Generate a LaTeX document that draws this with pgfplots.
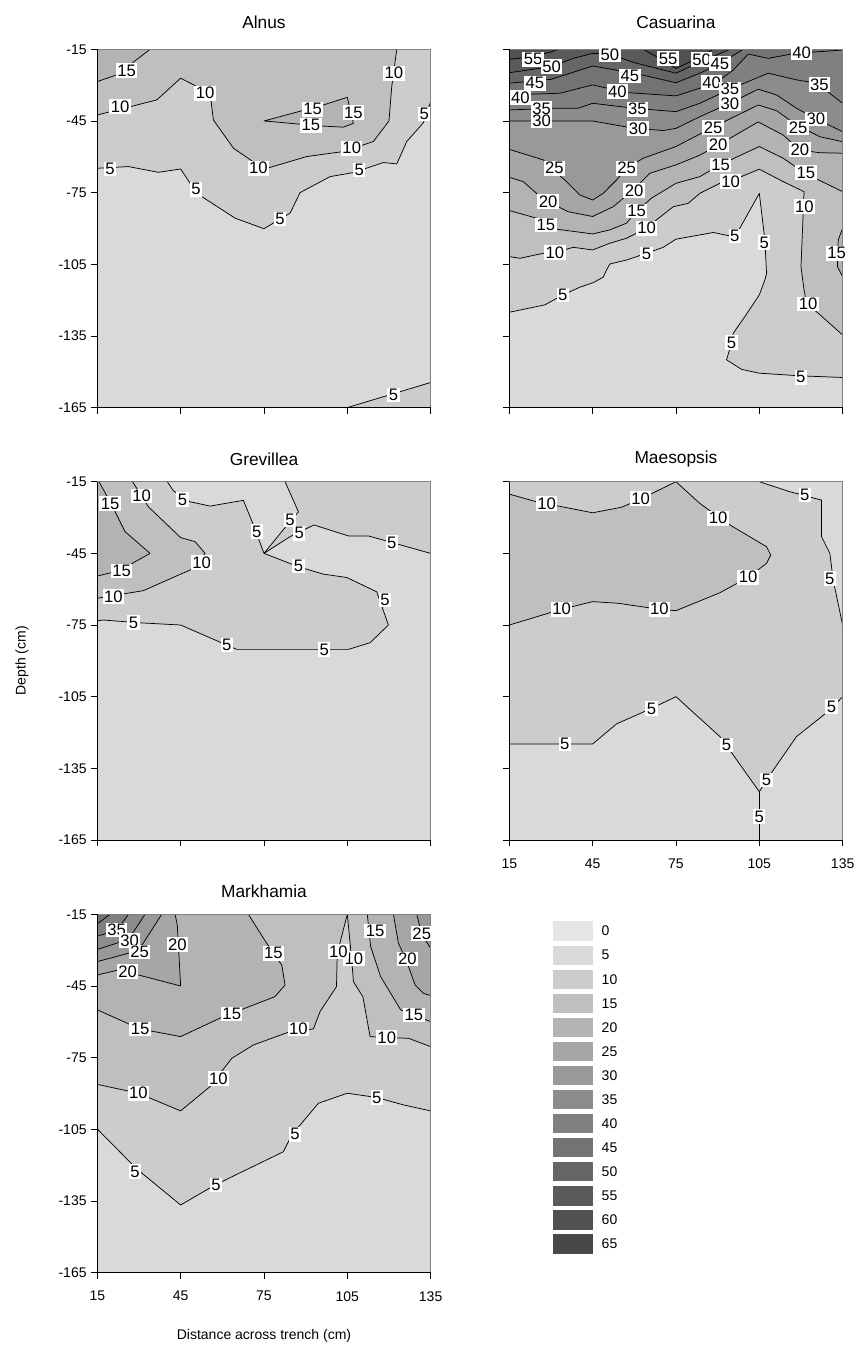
\documentclass[border=0pt]{standalone}
\usepackage{fontspec}
\setmainfont{Liberation Sans}
\usepackage{pgfplots}
\pgfplotsset{compat=1.18}

\definecolor{g0}{RGB}{229,229,229}
\definecolor{g5}{RGB}{217,217,217}
\definecolor{g10}{RGB}{204,204,204}
\definecolor{g15}{RGB}{191,191,191}
\definecolor{g20}{RGB}{179,179,179}
\definecolor{g25}{RGB}{166,166,166}
\definecolor{g30}{RGB}{153,153,153}
\definecolor{g35}{RGB}{140,140,140}
\definecolor{g40}{RGB}{128,128,128}
\definecolor{g45}{RGB}{115,115,115}
\definecolor{g50}{RGB}{102,102,102}
\definecolor{g55}{RGB}{90,90,90}
\definecolor{g60}{RGB}{81,81,81}
\definecolor{g65}{RGB}{72,72,72}

\pgfplotsset{
  panel/.style={
    anchor=north west, scale only axis, width=250pt, height=268.7pt,
    xmin=15, xmax=135, ymin=-165, ymax=-15,
    xtick={15,45,75,105,135}, ytick={-165,-135,-105,-75,-45,-15},
    axis x line*=bottom, axis y line*=left,
    axis line style={black, line width=0.6pt},
    tick style={black, line width=0.6pt},
    tick align=outside, major tick length=4.5pt,
    axis on top, clip=false,
    tick label style={font=\fontsize{10.5}{12}\selectfont},
    xticklabel style={yshift=-6pt},
    /pgf/number format/assume math mode=true,
    title style={font=\fontsize{13}{15}\selectfont, anchor=center, at={(0.5,1)}, yshift=11pt},
    every axis y label/.style={at={(rel axis cs:0,0.5)}, xshift=-56.5pt, rotate=90, anchor=center, font=\fontsize{10.5}{12}\selectfont},
    every axis x label/.style={at={(rel axis cs:0.5,0)}, yshift=-47.5pt, anchor=center, font=\fontsize{10.5}{12}\selectfont},
  },
  toprow/.style={title style={yshift=3.5pt}},
  ct/.style={black, line width=0.55pt, line join=round},
}
\tikzset{lbl/.style={fill=white, inner sep=1.1pt, font=\fontsize{12.5}{13}\selectfont, text=black}}
\newcommand{\lab}[3]{\node[lbl] at (axis cs:#1,#2) {#3};}
\newcommand{\frm}{\draw[gray, line width=0.5pt] (rel axis cs:0,1) -- (rel axis cs:1,1) -- (rel axis cs:1,0);}
\newcommand{\bg}{\addplot[fill=g5, draw=none] coordinates {(15,-15)(135,-15)(135,-165)(15,-165)} --cycle;}

\begin{document}
\begin{tikzpicture}
\useasboundingbox (0,0) rectangle (642.75pt,-1011.75pt);

% ---------------- Alnus ----------------
\begin{axis}[panel, toprow, at={(72.98pt,-36.98pt)}, title={Alnus}, xticklabels={}]
\bg
\addplot[fill=g10, draw=none] coordinates {(15,-64.8)(26.2,-64.1)(37.0,-66.5)(45.0,-65.1)(50.8,-75.3)(64.6,-85.7)(75.0,-90.1)(84.4,-83.6)(88.0,-75.0)(98.8,-68.3)(107.2,-66.6)(118.0,-62.4)(122.8,-63.0)(126.4,-53.6)(132.4,-45.7)(135,-36.9)(135,-15)(15,-15)} --cycle;
\addplot[fill=g10, draw=none] coordinates {(105,-165)(135,-154.5)(135,-165)} --cycle;
\addplot[fill=g15, draw=none] coordinates {(15,-42.5)(36.4,-36.2)(45.0,-27.1)(55.6,-33.4)(56.8,-44.6)(64.0,-56.4)(75.0,-65.2)(90.4,-59.9)(103.6,-57.8)(114.4,-53.6)(120.0,-45.0)(121.0,-30.6)(122.8,-15)(15,-15)} --cycle;
\addplot[fill=g20, draw=none] coordinates {(15,-28.5)(22.0,-25.7)(34.0,-15)(15,-15)} --cycle;
\addplot[fill=g20, draw=none] coordinates {(75,-45)(96.4,-38.3)(105,-35.1)(107.2,-46)(103.6,-47.6)(95.2,-47.1)} --cycle;
\addplot[ct] coordinates {(15,-28.5)(22.0,-25.7)(34.0,-15)};
\addplot[ct] coordinates {(15,-42.5)(36.4,-36.2)(45.0,-27.1)(55.6,-33.4)(56.8,-44.6)(64.0,-56.4)(75.0,-65.2)(90.4,-59.9)(103.6,-57.8)(114.4,-53.6)(120.0,-45.0)(121.0,-30.6)(122.8,-15)};
\addplot[ct] coordinates {(75,-45)(96.4,-38.3)(105,-35.1)(107.2,-46)(103.6,-47.6)(95.2,-47.1)} --cycle;
\addplot[ct] coordinates {(15,-64.8)(26.2,-64.1)(37.0,-66.5)(45.0,-65.1)(50.8,-75.3)(64.6,-85.7)(75.0,-90.1)(84.4,-83.6)(88.0,-75.0)(98.8,-68.3)(107.2,-66.6)(118.0,-62.4)(122.8,-63.0)(126.4,-53.6)(132.4,-45.7)(135,-36.9)};
\addplot[ct] coordinates {(105,-165)(135,-154.5)};
\frm
\lab{25.6}{-23.9}{15}\lab{23.2}{-39.0}{10}\lab{53.8}{-33.4}{10}\lab{73.0}{-64.8}{10}
\lab{106.6}{-56.4}{10}\lab{121.8}{-25.0}{10}\lab{92.5}{-40.1}{15}\lab{107.2}{-41.5}{15}
\lab{91.9}{-46.8}{15}\lab{19.6}{-65.2}{5}\lab{50.5}{-73.6}{5}\lab{80.8}{-86.1}{5}
\lab{109.3}{-65.5}{5}\lab{132.7}{-42.1}{5}\lab{121.6}{-159.7}{5}
\end{axis}

% ---------------- Casuarina ----------------
\begin{axis}[panel, toprow, at={(381.98pt,-36.98pt)}, title={Casuarina}, xticklabels={}, yticklabels={}]
\bg
\addplot[fill=g10, draw=none] coordinates {(15,-125.1)(27.8,-122.0)(34.4,-117.8)(40.4,-114.6)(45.2,-112.7)(48.8,-110.4)(50.0,-107.4)(51.2,-104.9)(57.2,-103.2)(64.4,-100.4)(70.4,-97.9)(75,-94.5)(88.4,-91.7)(95.6,-93.4)(98.0,-89.9)(105,-75.3)(107.0,-94.8)(107.6,-108.8)(107.0,-111.6)(105,-117.8)(99.8,-126.9)(95.6,-133.9)(95.0,-138.1)(93.2,-145.0)(98.6,-149.0)(105,-150.6)(119.6,-151.7)(135,-152.4)(135,-15)(15,-15)} --cycle;
\addplot[fill=g15, draw=none] coordinates {(15,-101.8)(18.8,-102.5)(27.2,-100.4)(31.4,-100.1)(38.0,-97.9)(45,-99.0)(51.2,-96.2)(57.2,-94.1)(64.4,-89.9)(68.0,-86.4)(74.0,-80.9)(79.4,-79.5)(83.6,-75.3)(90.8,-71.1)(95.6,-69.7)(105,-65.2)(113.6,-70.4)(121.1,-74.6)(120.6,-89.2)(120.0,-106.0)(121.1,-115.7)(122.0,-121.3)(126.2,-125.5)(135,-134.6)(135,-15)(15,-15)} --cycle;
\addplot[fill=g20, draw=none] coordinates {(15,-82.5)(24.8,-85.7)(28.4,-88.5)(32.0,-90.3)(45,-92.3)(51.2,-90.6)(57.2,-87.8)(60.8,-82.9)(66.2,-77.3)(75,-71.1)(83.6,-68.3)(90.8,-63.4)(105,-55.7)(113.6,-60.6)(121.4,-66.9)(135,-74.6)(135,-15)(15,-15)} --cycle;
\addplot[fill=g20, draw=none] coordinates {(135,-89.9)(133.4,-94.8)(133.1,-106.0)(135,-110.2)} --cycle;
\addplot[fill=g25, draw=none] coordinates {(15,-68.6)(20.0,-70.4)(24.8,-75.3)(29.0,-78.8)(36.2,-83.0)(45,-85.0)(52.4,-80.9)(59.6,-73.9)(65.6,-66.9)(75,-63.4)(83.6,-59.3)(90.2,-55.1)(104.6,-45.4)(113.6,-50.9)(119.6,-57.2)(126.8,-58.3)(135,-58.5)(135,-15)(15,-15)} --cycle;
\addplot[fill=g30, draw=none] coordinates {(15,-56.9)(27.2,-61.3)(30.8,-65.5)(35.6,-70.4)(40.4,-76.0)(45,-78.1)(48.8,-75.3)(53.6,-69.7)(57.2,-64.8)(63.2,-60.6)(75,-55.7)(88.4,-47.6)(104.6,-38.3)(111.2,-40.7)(118.4,-46.7)(126.8,-51.6)(135,-53.7)(135,-15)(15,-15)} --cycle;
\addplot[fill=g35, draw=none] coordinates {(15,-45.0)(45,-45.0)(60,-48.1)(70.4,-49.0)(75,-48.1)(83.6,-43.2)(94.4,-37.6)(104.6,-31.7)(111.2,-34.1)(118.4,-39.7)(125.6,-44.2)(135,-49.5)(135,-15)(15,-15)} --cycle;
\addplot[fill=g40, draw=none] coordinates {(15,-40.4)(30,-39.7)(39.8,-39.7)(45,-37.6)(60,-39.7)(75,-41.1)(83.6,-37.6)(94.4,-31.7)(108.2,-25.0)(118.4,-27.8)(125.6,-29.2)(135,-37.6)(135,-15)(15,-15)} --cycle;
\addplot[fill=g45, draw=none] coordinates {(15,-34.1)(33.2,-33.4)(45,-29.9)(57.2,-33.1)(75,-34.5)(83.6,-31.3)(90,-28.5)(95.6,-23.7)(101.0,-17.0)(108.2,-18.8)(117.8,-16.7)(135,-15.3)(135,-15)(15,-15)} --cycle;
\addplot[fill=g50, draw=none] coordinates {(15,-29.2)(30,-27.6)(45,-22.0)(60,-25.0)(75,-29.0)(83.6,-25.0)(90,-21.6)(99.2,-15)(15,-15)} --cycle;
\addplot[fill=g55, draw=none] coordinates {(15,-24.8)(30,-22.3)(38.0,-18.8)(45,-16.7)(51.2,-17.0)(60,-20.6)(75,-25.0)(84.8,-19.7)(94.4,-15)(15,-15)} --cycle;
\addplot[fill=g60, draw=none] coordinates {(15,-19.2)(23.6,-18.1)(30,-16.1)(32.6,-15)(15,-15)} --cycle;
\addplot[fill=g60, draw=none] coordinates {(63.2,-15)(68.0,-18.1)(75,-23.0)(81.2,-19.7)(88.4,-15)} --cycle;
% lines
\addplot[ct] coordinates {(15,-125.1)(27.8,-122.0)(34.4,-117.8)(40.4,-114.6)(45.2,-112.7)(48.8,-110.4)(50.0,-107.4)(51.2,-104.9)(57.2,-103.2)(64.4,-100.4)(70.4,-97.9)(75,-94.5)(88.4,-91.7)(95.6,-93.4)(98.0,-89.9)(105,-75.3)(107.0,-94.8)(107.6,-108.8)(107.0,-111.6)(105,-117.8)(99.8,-126.9)(95.6,-133.9)(95.0,-138.1)(93.2,-145.0)(98.6,-149.0)(105,-150.6)(119.6,-151.7)(135,-152.4)};
\addplot[ct] coordinates {(15,-101.8)(18.8,-102.5)(27.2,-100.4)(31.4,-100.1)(38.0,-97.9)(45,-99.0)(51.2,-96.2)(57.2,-94.1)(64.4,-89.9)(68.0,-86.4)(74.0,-80.9)(79.4,-79.5)(83.6,-75.3)(90.8,-71.1)(95.6,-69.7)(105,-65.2)(113.6,-70.4)(121.1,-74.6)(120.6,-89.2)(120.0,-106.0)(121.1,-115.7)(122.0,-121.3)(126.2,-125.5)(135,-134.6)};
\addplot[ct] coordinates {(15,-82.5)(24.8,-85.7)(28.4,-88.5)(32.0,-90.3)(45,-92.3)(51.2,-90.6)(57.2,-87.8)(60.8,-82.9)(66.2,-77.3)(75,-71.1)(83.6,-68.3)(90.8,-63.4)(105,-55.7)(113.6,-60.6)(121.4,-66.9)(135,-74.6)};
\addplot[ct] coordinates {(135,-89.9)(133.4,-94.8)(133.1,-106.0)(135,-110.2)};
\addplot[ct] coordinates {(15,-68.6)(20.0,-70.4)(24.8,-75.3)(29.0,-78.8)(36.2,-83.0)(45,-85.0)(52.4,-80.9)(59.6,-73.9)(65.6,-66.9)(75,-63.4)(83.6,-59.3)(90.2,-55.1)(104.6,-45.4)(113.6,-50.9)(119.6,-57.2)(126.8,-58.3)(135,-58.5)};
\addplot[ct] coordinates {(15,-56.9)(27.2,-61.3)(30.8,-65.5)(35.6,-70.4)(40.4,-76.0)(45,-78.1)(48.8,-75.3)(53.6,-69.7)(57.2,-64.8)(63.2,-60.6)(75,-55.7)(88.4,-47.6)(104.6,-38.3)(111.2,-40.7)(118.4,-46.7)(126.8,-51.6)(135,-53.7)};
\addplot[ct] coordinates {(15,-45.0)(45,-45.0)(60,-48.1)(70.4,-49.0)(75,-48.1)(83.6,-43.2)(94.4,-37.6)(104.6,-31.7)(111.2,-34.1)(118.4,-39.7)(125.6,-44.2)(135,-49.5)};
\addplot[ct] coordinates {(15,-40.4)(30,-39.7)(39.8,-39.7)(45,-37.6)(60,-39.7)(75,-41.1)(83.6,-37.6)(94.4,-31.7)(108.2,-25.0)(118.4,-27.8)(125.6,-29.2)(135,-37.6)};
\addplot[ct] coordinates {(15,-34.1)(33.2,-33.4)(45,-29.9)(57.2,-33.1)(75,-34.5)(83.6,-31.3)(90,-28.5)(95.6,-23.7)(101.0,-17.0)(108.2,-18.8)(117.8,-16.7)(135,-15.3)};
\addplot[ct] coordinates {(15,-29.2)(30,-27.6)(45,-22.0)(60,-25.0)(75,-29.0)(83.6,-25.0)(90,-21.6)(99.2,-15)};
\addplot[ct] coordinates {(15,-24.8)(30,-22.3)(38.0,-18.8)(45,-16.7)(51.2,-17.0)(60,-20.6)(75,-25.0)(84.8,-19.7)(94.4,-15)};
\addplot[ct] coordinates {(15,-19.2)(23.6,-18.1)(30,-16.1)(32.6,-15)};
\addplot[ct] coordinates {(63.2,-15)(68.0,-18.1)(75,-23.0)(81.2,-19.7)(88.4,-15)};
\frm
\lab{23.6}{-19.2}{55}\lab{30.2}{-22.3}{50}\lab{51.2}{-17.4}{50}\lab{72.2}{-18.8}{55}
\lab{84.2}{-19.2}{50}\lab{90.8}{-20.9}{45}\lab{120.2}{-16.4}{40}
\lab{24.2}{-29.2}{45}\lab{19.0}{-35.2}{40}\lab{26.6}{-39.9}{35}\lab{26.6}{-45.0}{30}
\lab{58.4}{-26.2}{45}\lab{53.9}{-32.7}{40}\lab{61.1}{-40.1}{35}\lab{61.4}{-48.1}{30}
\lab{87.8}{-29.0}{40}\lab{94.4}{-31.7}{35}\lab{94.4}{-37.6}{30}\lab{126.6}{-29.7}{35}
\lab{125.4}{-44.2}{30}\lab{119.0}{-47.7}{25}\lab{119.6}{-57.1}{20}\lab{121.8}{-66.6}{15}
\lab{121.2}{-80.9}{10}\lab{88.4}{-47.7}{25}\lab{90.2}{-55.0}{20}\lab{91.1}{-63.4}{15}
\lab{94.7}{-70.4}{10}\lab{31.2}{-64.8}{25}\lab{57.2}{-64.8}{25}\lab{29.0}{-78.8}{20}
\lab{59.9}{-74.2}{20}\lab{28.2}{-88.5}{15}\lab{60.8}{-82.7}{15}\lab{31.4}{-100.1}{10}
\lab{64.4}{-89.9}{10}\lab{64.4}{-100.7}{5}\lab{34.2}{-117.8}{5}\lab{96.2}{-93.1}{5}
\lab{106.8}{-95.9}{5}\lab{132.8}{-100.4}{15}\lab{122.6}{-121.6}{10}\lab{95.0}{-137.8}{5}
\lab{119.9}{-152.3}{5}
\end{axis}

% ---------------- Grevillea ----------------
\begin{axis}[panel, at={(72.98pt,-361.28pt)}, title={Grevillea}, xticklabels={}, ylabel={Depth (cm)}]
\bg
\addplot[fill=g10, draw=none] coordinates {(15,-15)(40.2,-15)(42.4,-18.8)(48.4,-23.4)(55.6,-25.2)(67.6,-22.8)(71.2,-33.1)(75,-45)(87.4,-50.6)(96.4,-53.7)(104.8,-55.1)(115.6,-61.1)(119.8,-75)(113.2,-82.4)(105.4,-85.2)(96.4,-85.2)(65.2,-85.2)(61.6,-83.4)(45,-75)(29.2,-74)(17.2,-72.9)(15,-73.2)} --cycle;
\addplot[fill=g10, draw=none] coordinates {(82.6,-15)(87.4,-27.6)(81.4,-35.9)(75,-45)(84.4,-38)(93,-33.1)(105.4,-37.7)(112.6,-37.7)(135,-45)(135,-15)} --cycle;
\addplot[fill=g15, draw=none] coordinates {(27.7,-15)(33.4,-25.5)(45,-38.4)(50.2,-40.1)(53.8,-45.0)(48.4,-52.0)(45,-53.7)(31.6,-60.6)(15,-63.8)(15,-15)} --cycle;
\addplot[fill=g20, draw=none] coordinates {(15.6,-15)(19.6,-23.4)(25.0,-35.9)(34.0,-45.0)(28.0,-48.9)(23.8,-52.0)(15,-54.5)(15,-15)} --cycle;
\addplot[ct] coordinates {(15.6,-15)(19.6,-23.4)(25.0,-35.9)(34.0,-45.0)(28.0,-48.9)(23.8,-52.0)(15,-54.5)};
\addplot[ct] coordinates {(27.7,-15)(33.4,-25.5)(45,-38.4)(50.2,-40.1)(53.8,-45.0)(48.4,-52.0)(45,-53.7)(31.6,-60.6)(15,-63.8)};
\addplot[ct] coordinates {(40.2,-15)(42.4,-18.8)(48.4,-23.4)(55.6,-25.2)(67.6,-22.8)(71.2,-33.1)(75,-45)};
\addplot[ct] coordinates {(82.6,-15)(87.4,-27.6)(81.4,-35.9)(75,-45)};
\addplot[ct] coordinates {(75,-45)(84.4,-38)(93,-33.1)(105.4,-37.7)(112.6,-37.7)(135,-45)};
\addplot[ct] coordinates {(75,-45)(87.4,-50.6)(96.4,-53.7)(104.8,-55.1)(115.6,-61.1)(119.8,-75)(113.2,-82.4)(105.4,-85.2)(96.4,-85.2)(65.2,-85.2)(61.6,-83.4)(45,-75)(29.2,-74)(17.2,-72.9)(15,-73.2)};
\frm
\lab{19.6}{-24.1}{15}\lab{31.0}{-21.0}{10}\lab{45.7}{-22.4}{5}\lab{72.4}{-35.9}{5}
\lab{84.4}{-31.0}{5}\lab{87.7}{-36.6}{5}\lab{121.0}{-40.5}{5}\lab{52.6}{-48.9}{10}
\lab{23.8}{-52.4}{15}\lab{20.8}{-63.1}{10}\lab{87.4}{-50.3}{5}\lab{118.6}{-64.5}{5}
\lab{28.0}{-74.0}{5}\lab{61.6}{-83.4}{5}\lab{96.7}{-85.2}{5}
\end{axis}

% ---------------- Maesopsis ----------------
\begin{axis}[panel, at={(381.98pt,-361.28pt)}, title={Maesopsis}, yticklabels={}]
\bg
\addplot[fill=g10, draw=none] coordinates {(15,-124.8)(15,-15)(105,-15)(116.0,-19.2)(127.4,-22.7)(127.4,-38.0)(130.4,-45.0)(131.6,-56.2)(135,-75)(135,-105)(130.4,-110.6)(118.4,-121.7)(108.8,-137.8)(105,-144.8)(95.6,-129.4)(90.8,-121.7)(75,-105)(66.2,-109.9)(53.6,-116.4)(45,-124.8)} --cycle;
\addplot[fill=g15, draw=none] coordinates {(15,-20.2)(24.8,-23.4)(45,-28.0)(55.4,-25.7)(62,-22.4)(75,-15.0)(83.6,-24.1)(94.4,-33.1)(107.6,-42.2)(109.1,-45.7)(107.6,-49.2)(101.0,-55.0)(90.8,-61.5)(75,-69.0)(69.0,-68.4)(54.2,-65.9)(45,-65.2)(33.8,-68.4)(15,-75.0)} --cycle;
\addplot[ct] coordinates {(15,-20.2)(24.8,-23.4)(45,-28.0)(55.4,-25.7)(62,-22.4)(75,-15.0)(83.6,-24.1)(94.4,-33.1)(107.6,-42.2)(109.1,-45.7)(107.6,-49.2)(101.0,-55.0)(90.8,-61.5)(75,-69.0)(69.0,-68.4)(54.2,-65.9)(45,-65.2)(33.8,-68.4)(15,-75.0)};
\addplot[ct] coordinates {(105,-15)(116.0,-19.2)(127.4,-22.7)(127.4,-38.0)(130.4,-45.0)(131.6,-56.2)(135,-75)};
\addplot[ct] coordinates {(15,-124.8)(45,-124.8)(53.6,-116.4)(66.2,-109.9)(75,-105)(90.8,-121.7)(95.6,-129.4)(105,-144.8)(108.8,-137.8)(118.4,-121.7)(130.4,-110.6)(135,-105)};
\addplot[ct] coordinates {(105,-144.8)(105,-165)};
\frm
\lab{28.4}{-24.1}{10}\lab{62.3}{-22.0}{10}\lab{90.2}{-30.3}{10}\lab{101.0}{-55.0}{10}
\lab{69.0}{-68.4}{10}\lab{33.8}{-68.4}{10}\lab{121.4}{-20.6}{5}\lab{130.4}{-55.5}{5}
\lab{35.0}{-124.8}{5}\lab{66.2}{-109.9}{5}\lab{93.2}{-125.2}{5}\lab{107.6}{-139.9}{5}
\lab{131.0}{-109.2}{5}\lab{105}{-155.2}{5}
\end{axis}

% ---------------- Markhamia ----------------
\begin{axis}[panel, at={(72.98pt,-685.73pt)}, title={Markhamia}, xlabel={Distance across trench (cm)}]
\bg
\addplot[fill=g10, draw=none] coordinates {(15,-104.9)(29.2,-121.6)(45,-136.7)(57.4,-128.3)(82.0,-114.4)(85.0,-107.4)(94.6,-94.1)(105.0,-89.9)(115.6,-91.7)(125.2,-94.8)(135,-97.3)(135,-15)(15,-15)} --cycle;
\addplot[fill=g15, draw=none] coordinates {(15,-86.2)(29.8,-89.9)(45,-97.3)(55.6,-87.1)(63.4,-75.3)(71.2,-69.7)(84.4,-64.1)(92.8,-63.0)(95.2,-55.7)(101.1,-45.3)(101.4,-31.3)(105.0,-15)(106.6,-34.1)(107.2,-43.2)(110.6,-49.5)(113.2,-66.2)(119.2,-66.6)(127.0,-66.9)(135,-70.4)(135,-15)(15,-15)} --cycle;
\addplot[fill=g20, draw=none] coordinates {(15,-55.0)(30.4,-63.0)(45,-66.2)(60.4,-57.8)(78.9,-49.5)(82.6,-44.6)(81.4,-36.2)(78.4,-31.3)(74.8,-25.0)(69.4,-15)(15,-15)} --cycle;
\addplot[fill=g20, draw=none] coordinates {(112.2,-15)(113.4,-28.5)(117.0,-41.1)(124.2,-55.0)(128.4,-57.1)(135,-59.9)(135,-15)} --cycle;
\addplot[fill=g25, draw=none] coordinates {(15,-40.4)(22.6,-38.3)(29.8,-40.4)(45,-45.0)(43.8,-19.5)(43.0,-15)(15,-15)} --cycle;
\addplot[fill=g25, draw=none] coordinates {(121.6,-15)(123.4,-27.1)(126.4,-34.8)(129.4,-44.6)(132.4,-48.1)(135,-49.0)(135,-15)} --cycle;
\addplot[fill=g30, draw=none] coordinates {(15,-34.8)(29.8,-30.2)(38.2,-15)(15,-15)} --cycle;
\addplot[fill=g30, draw=none] coordinates {(130.0,-15)(131.8,-23.6)(135,-29.2)(135,-15)} --cycle;
\addplot[fill=g35, draw=none] coordinates {(15,-29.7)(26.2,-25.5)(32.2,-15)(15,-15)} --cycle;
\addplot[fill=g40, draw=none] coordinates {(15,-24.1)(22.0,-21.8)(26.2,-15)(15,-15)} --cycle;
\addplot[fill=g45, draw=none] coordinates {(15,-19.0)(19.6,-15)(15,-15)} --cycle;
\addplot[ct] coordinates {(15,-19.0)(19.6,-15)};
\addplot[ct] coordinates {(15,-24.1)(22.0,-21.8)(26.2,-15)};
\addplot[ct] coordinates {(15,-29.7)(26.2,-25.5)(32.2,-15)};
\addplot[ct] coordinates {(15,-34.8)(29.8,-30.2)(38.2,-15)};
\addplot[ct] coordinates {(15,-40.4)(22.6,-38.3)(29.8,-40.4)(45,-45.0)(43.8,-19.5)(43.0,-15)};
\addplot[ct] coordinates {(15,-55.0)(30.4,-63.0)(45,-66.2)(60.4,-57.8)(78.9,-49.5)(82.6,-44.6)(81.4,-36.2)(78.4,-31.3)(74.8,-25.0)(69.4,-15)};
\addplot[ct] coordinates {(15,-86.2)(29.8,-89.9)(45,-97.3)(55.6,-87.1)(63.4,-75.3)(71.2,-69.7)(84.4,-64.1)(92.8,-63.0)(95.2,-55.7)(101.1,-45.3)(101.4,-31.3)(105.0,-15)(106.6,-34.1)(107.2,-43.2)(110.6,-49.5)(113.2,-66.2)(119.2,-66.6)(127.0,-66.9)(135,-70.4)};
\addplot[ct] coordinates {(112.2,-15)(113.4,-28.5)(117.0,-41.1)(124.2,-55.0)(128.4,-57.1)(135,-59.9)};
\addplot[ct] coordinates {(121.6,-15)(123.4,-27.1)(126.4,-34.8)(129.4,-44.6)(132.4,-48.1)(135,-49.0)};
\addplot[ct] coordinates {(130.0,-15)(131.8,-23.6)(135,-29.2)};
\addplot[ct] coordinates {(15,-104.9)(29.2,-121.6)(45,-136.7)(57.4,-128.3)(82.0,-114.4)(85.0,-107.4)(94.6,-94.1)(105.0,-89.9)(115.6,-91.7)(125.2,-94.8)(135,-97.3)};
\frm
\lab{22.0}{-21.6}{35}\lab{26.6}{-25.9}{30}\lab{30.2}{-30.8}{25}\lab{25.9}{-39.0}{20}
\lab{43.8}{-27.6}{20}\lab{30.4}{-63.0}{15}\lab{63.4}{-56.7}{15}\lab{78.4}{-31.3}{15}
\lab{29.8}{-89.9}{10}\lab{58.6}{-83.7}{10}\lab{87.4}{-63.0}{10}\lab{119.2}{-66.6}{10}
\lab{107.4}{-33.6}{10}\lab{101.8}{-30.7}{10}\lab{115.0}{-22.0}{15}\lab{129.0}{-57.1}{15}
\lab{126.6}{-33.7}{20}\lab{131.8}{-23.0}{25}\lab{28.6}{-122.7}{5}\lab{57.7}{-128.3}{5}
\lab{86.2}{-107.1}{5}\lab{115.6}{-91.7}{5}
\end{axis}

% ---------------- colour key ----------------
\begin{axis}[anchor=north west, at={(414.75pt,-689.25pt)}, scale only axis, width=30pt, height=252.8pt,
  xmin=0, xmax=1, ymin=-0.5, ymax=13.5, y dir=reverse, clip=false,
  axis line style={draw=none}, tick style={draw=none}, major tick length=0pt,
  xtick=\empty, ytick={0,1,2,3,4,5,6,7,8,9,10,11,12,13},
  yticklabels={0,5,10,15,20,25,30,35,40,45,50,55,60,65},
  yticklabel pos=right,
  yticklabel style={font=\fontsize{10.5}{12}\selectfont, anchor=west, xshift=3pt}]
\addplot[fill=g0, draw=none] coordinates {(0,-0.4)(1,-0.4)(1,0.4)(0,0.4)} --cycle;
\addplot[fill=g5, draw=none] coordinates {(0,0.6)(1,0.6)(1,1.4)(0,1.4)} --cycle;
\addplot[fill=g10, draw=none] coordinates {(0,1.6)(1,1.6)(1,2.4)(0,2.4)} --cycle;
\addplot[fill=g15, draw=none] coordinates {(0,2.6)(1,2.6)(1,3.4)(0,3.4)} --cycle;
\addplot[fill=g20, draw=none] coordinates {(0,3.6)(1,3.6)(1,4.4)(0,4.4)} --cycle;
\addplot[fill=g25, draw=none] coordinates {(0,4.6)(1,4.6)(1,5.4)(0,5.4)} --cycle;
\addplot[fill=g30, draw=none] coordinates {(0,5.6)(1,5.6)(1,6.4)(0,6.4)} --cycle;
\addplot[fill=g35, draw=none] coordinates {(0,6.6)(1,6.6)(1,7.4)(0,7.4)} --cycle;
\addplot[fill=g40, draw=none] coordinates {(0,7.6)(1,7.6)(1,8.4)(0,8.4)} --cycle;
\addplot[fill=g45, draw=none] coordinates {(0,8.6)(1,8.6)(1,9.4)(0,9.4)} --cycle;
\addplot[fill=g50, draw=none] coordinates {(0,9.6)(1,9.6)(1,10.4)(0,10.4)} --cycle;
\addplot[fill=g55, draw=none] coordinates {(0,10.6)(1,10.6)(1,11.4)(0,11.4)} --cycle;
\addplot[fill=g60, draw=none] coordinates {(0,11.6)(1,11.6)(1,12.4)(0,12.4)} --cycle;
\addplot[fill=g65, draw=none] coordinates {(0,12.6)(1,12.6)(1,13.4)(0,13.4)} --cycle;
\end{axis}
\end{tikzpicture}
\end{document}
